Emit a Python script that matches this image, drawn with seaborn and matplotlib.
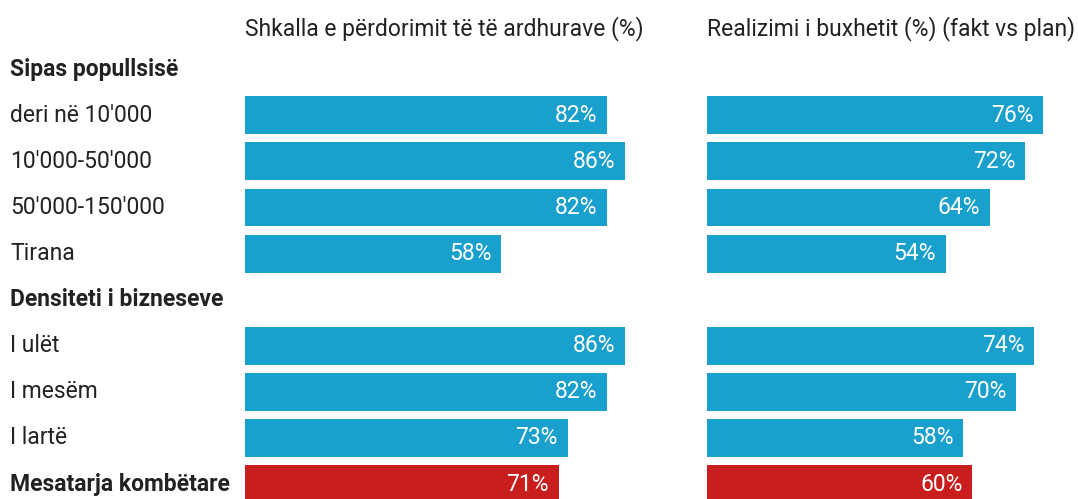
import numpy as np
import pandas as pd
import matplotlib
matplotlib.use('Agg')
import matplotlib.pyplot as plt
import matplotlib.transforms as mtransforms
import seaborn as sns

# rows top to bottom; None = group header without bars
row_labels = ['Sipas popullsisë', "deri në 10'000", "10'000-50'000", "50'000-150'000", 'Tirana',
              'Densiteti i bizneseve', 'I ulët', 'I mesëm', 'I lartë', 'Mesatarja kombëtare']
bold_rows = ['Sipas popullsisë', 'Densiteti i bizneseve', 'Mesatarja kombëtare']
usage = [None, 82, 86, 82, 58, None, 86, 82, 73, 71]
budget = [None, 76, 72, 64, 54, None, 74, 70, 58, 60]
titles = ['Shkalla e përdorimit të të ardhurave (%)', 'Realizimi i buxhetit (%) (fakt vs plan)']

BLUE = '#1aa0cc'
RED = '#c81e1e'
TXT = '#222222'
FS = 16.5

sns.set_theme(style='white')
plt.rcParams['font.family'] = ['Roboto', 'DejaVu Sans']

df = pd.DataFrame({'row': row_labels,
                   'usage': pd.array(usage, dtype='Float64').astype(float),
                   'budget': pd.array(budget, dtype='Float64').astype(float)})
palette = {r: (RED if r == 'Mesatarja kombëtare' else BLUE) for r in row_labels}

W, H = 1078, 499
fig = plt.figure(figsize=(W / 100, H / 100), dpi=100)

px_per_pct = 4.42
row0_px, step_px = 69.2, 46.1
ylim = ((H - row0_px) / step_px, -row0_px / step_px)

panels = [(245, 445, 'usage'), (707, W - 707, 'budget')]
axes = []
for (x0, w, col), title in zip(panels, titles):
    ax = fig.add_axes([x0 / W, 0, w / W, 1])
    sns.barplot(data=df, y='row', x=col, hue='row', palette=palette, order=row_labels,
                orient='h', width=38 / step_px, legend=False, saturation=1,
                linewidth=0, ax=ax)
    ax.set_xlim(0, w / px_per_pct)
    ax.set_ylim(*ylim)
    ax.axis('off')
    for i, v in enumerate(df[col]):
        if np.isnan(v):
            continue
        ax.annotate(f'{v:.0f}%', xy=(v, i), xytext=(-7, 0), textcoords='offset points',
                    ha='right', va='center', color='white', fontsize=FS)
    ax.text(0, -0.88, title, ha='left', va='center', fontsize=FS, color=TXT)
    axes.append(ax)

trans = mtransforms.blended_transform_factory(fig.transFigure, axes[0].transData)
for i, r in enumerate(row_labels):
    axes[0].text(10 / W, i, r, transform=trans, ha='left', va='center', fontsize=FS,
                 color=TXT, fontweight='bold' if r in bold_rows else 'normal', clip_on=False)

fig.savefig('out.png', dpi=100)
